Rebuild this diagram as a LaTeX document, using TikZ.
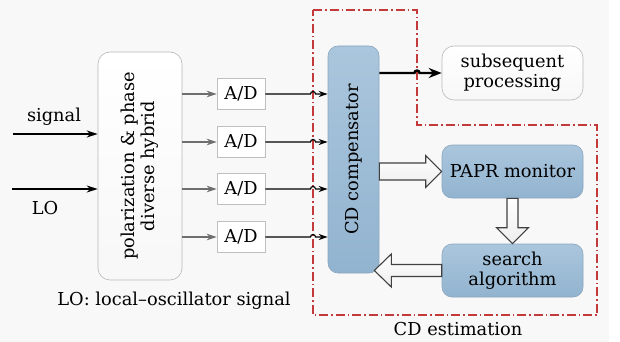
\documentclass[tikz,border=0pt]{standalone}
\usepackage{fontspec}
\setmainfont{DejaVu Serif}
\usetikzlibrary{arrows.meta,calc}
\definecolor{bggray}{HTML}{F8F8F8}
\definecolor{boxblue}{HTML}{AAC6DD}
\definecolor{boxbluedark}{HTML}{92B3CF}
\definecolor{blueedge}{HTML}{8AA6BE}
\definecolor{estred}{HTML}{C43A3A}
\definecolor{feedgray}{HTML}{6E6E6E}
\begin{document}
\begin{tikzpicture}[x=1pt,y=-1pt,
  font=\fontsize{17.8}{20}\selectfont,
  bluebox/.style={draw=blueedge, line width=0.6pt, rounded corners=10pt,
    top color=boxblue, bottom color=boxbluedark, align=center, inner sep=0pt},
  whitebox/.style={draw=gray!55, line width=0.6pt, rounded corners=12pt,
    top color=white, bottom color=gray!6, align=center, inner sep=0pt},
  adbox/.style={draw=gray!50, fill=white, line width=0.6pt,
    minimum width=48pt, minimum height=31pt, inner sep=0pt},
  inarrow/.style={line width=1.5pt, -{Stealth[length=11pt,width=7pt]}},
  feedarrow/.style={draw=feedgray, line width=1.3pt, -{Stealth[length=10pt,width=6.5pt]}},
  sigline/.style={line width=1.2pt, -{Stealth[length=9pt,width=6pt]}},
  outline/.style={line width=2.4pt, -{Stealth[length=13pt,width=10pt]}},
  hollow/.style={draw=black!75, line width=1.1pt, line join=miter,
    top color=white, bottom color=gray!14},
  estregion/.style={draw=estred, line width=1.2pt,
    dash pattern=on 9pt off 3pt on 1.5pt off 3pt}
]
% canvas
\useasboundingbox (0,0) rectangle (620,342);
\fill[white] (0,0) rectangle (620,342);
\fill[bggray] (0,0) rectangle (609,342);

% CD estimation region
\draw[estregion] (313,10) -- (417,10) -- (417,125) -- (597,125)
  -- (597,315) -- (313,315) -- cycle;
\node (estlabel) at (458,329) {CD estimation};
\coordinate (rl) at (313,0);
\coordinate (rr) at (417,0);

% blocks
\node[whitebox, minimum width=84pt, minimum height=228pt] (hyb) at (140,166) {};
\node[rotate=90, align=center] (hybtext) at (hyb) {polarization \& phase\\diverse hybrid};

\node[adbox] (ad1) at (241,94) {A/D};
\node[adbox] (ad2) at (241,142) {A/D};
\node[adbox] (ad3) at (241,189) {A/D};
\node[adbox] (ad4) at (241,237) {A/D};

\node[bluebox, minimum width=51pt, minimum height=227pt] (cd) at (353.5,159.5) {};
\node[rotate=90] (cdtext) at (cd) {CD compensator};

\node[whitebox, minimum width=141pt, minimum height=54pt] (sub) at (512.5,73)
  {subsequent\\processing};
\node[bluebox, minimum width=141pt, minimum height=53pt] (pm) at (512.5,171.5)
  {PAPR monitor};
\node[bluebox, minimum width=141pt, minimum height=53pt] (sa) at (512.5,270.5)
  {search\\algorithm};

% inputs
\coordinate (sigin) at (13,134);
\coordinate (loin) at (12,189);
\draw[inarrow] (sigin) -- (sigin -| hyb.west);
\draw[inarrow] (loin) -- (loin -| hyb.west);
\node (siglabel) at (54,117) {signal};
\node (lolabel) at (45,208) {LO};
\node (lonote) at (174,301) {LO: local--oscillator signal};

% hybrid outputs to converters
\foreach \n in {ad1,ad2,ad3,ad4}{
  \draw[feedarrow] (hyb.east |- \n) -- (\n.west);
}

% converters to compensator, hopping over the region border
\foreach \n in {ad1,ad2,ad3,ad4}{
  \draw[sigline] (\n.east) -- ($(\n.east -| rl)+(-2.5,0)$)
    arc[start angle=180, end angle=0, radius=2.5pt] -- (\n.east -| cd.west);
}

% compensator output
\draw[outline] (cd.east |- sub.west) -- ($(sub.west -| rr)+(-2.5,0)$)
  arc[start angle=180, end angle=0, radius=2.5pt] -- (sub.west);

% estimation loop: block arrows
\coordinate (h1s) at (cd.east |- pm.west);
\coordinate (h1t) at (pm.west);
\draw[hollow] ($(h1s)+(0,-8.5)$) -- ($(h1t)+(-16,-8.5)$) -- ($(h1t)+(-16,-16)$)
  -- (h1t) -- ($(h1t)+(-16,16)$) -- ($(h1t)+(-16,8.5)$) -- ($(h1s)+(0,8.5)$) -- cycle;

\coordinate (h2s) at (pm.south);
\coordinate (h2t) at (sa.north);
\draw[hollow] ($(h2s)+(-5.5,0)$) -- ($(h2t)+(-5.5,-16)$) -- ($(h2t)+(-16,-16)$)
  -- (h2t) -- ($(h2t)+(16,-16)$) -- ($(h2t)+(5.5,-16)$) -- ($(h2s)+(5.5,0)$) -- cycle;

\coordinate (h3s) at (sa.west);
\coordinate (h3t) at ($(cd.east |- sa.west)+(-5,0)$);
\draw[hollow] ($(h3s)+(0,-6)$) -- ($(h3t)+(17,-6)$) -- ($(h3t)+(17,-16.5)$)
  -- (h3t) -- ($(h3t)+(17,16.5)$) -- ($(h3t)+(17,6)$) -- ($(h3s)+(0,6)$) -- cycle;
\end{tikzpicture}
\end{document}
